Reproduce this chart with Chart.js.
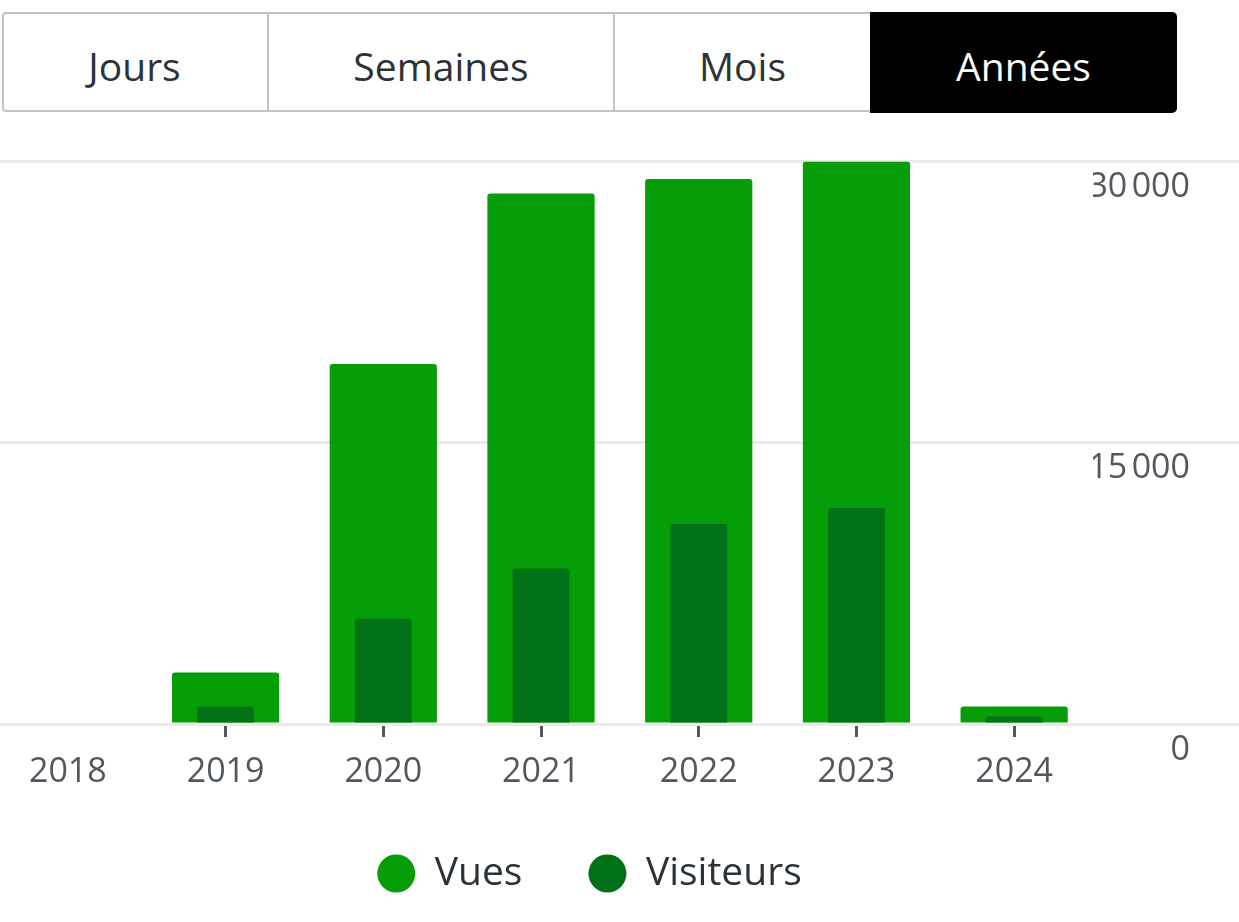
<!DOCTYPE html>
<html lang="fr">
<head>
  <meta charset="UTF-8">
  <title>Statistiques | Années</title>
  <script src="https://cdn.jsdelivr.net/npm/chart.js"></script>
  <style>
    html, body { margin: 0; padding: 0; background: #fff; overflow: hidden; width: 1239px; height: 922px; }
    body { position: relative; font-family: "Open Sans", sans-serif; }
    .tabs { position: absolute; left: 2px; top: 12px; width: 1175px; height: 100px; box-sizing: border-box; border: 2px solid #c3c4c7; border-radius: 4px; }
    .sep { position: absolute; top: 12px; width: 2px; height: 100px; background: #c3c4c7; }
    .active { position: absolute; left: 870px; top: 12px; width: 307px; height: 101px; background: #000; border-radius: 0 5px 5px 0; }
    .tab { position: absolute; top: 16px; height: 100px; line-height: 100px; text-align: center; font-size: 39px; color: #2c3338; }
    #wrap { position: absolute; left: -11px; top: 120px; width: 1250px; height: 783px; }
  </style>
</head>
<body>
  <div class="tabs"></div>
  <div class="sep" style="left:267px"></div>
  <div class="sep" style="left:613px"></div>
  <div class="active"></div>
  <div class="tab" style="left:2px;width:265px">Jours</div>
  <div class="tab" style="left:269px;width:344px">Semaines</div>
  <div class="tab" style="left:615px;width:255px">Mois</div>
  <div class="tab" style="left:870px;width:307px;color:#fff">Années</div>

  <div id="wrap"><canvas id="statsChart"></canvas></div>

  <script>
    // data
    const years = ['2018', '2019', '2020', '2021', '2022', '2023', '2024'];
    const vues = [0, 2750, 19200, 28300, 29070, 30000, 930];
    const visiteurs = [0, 930, 5630, 8300, 10670, 11520, 400];
    const yTicks = [0, 15000, 30000];
    const yTickLabels = ['0', '15\u202f000', '30\u202f000'];

    const tickFont = { family: 'Open Sans', size: 34, lineHeight: 1 };

    new Chart(document.getElementById('statsChart'), {
      type: 'bar',
      data: {
        labels: years,
        datasets: [
          {
            label: 'Vues',
            data: vues,
            backgroundColor: '#069e08',
            barPercentage: 0.68,
            categoryPercentage: 1,
            grouped: false,
            order: 1,
            borderRadius: { topLeft: 3, topRight: 3 },
            borderSkipped: 'bottom'
          },
          {
            label: 'Visiteurs',
            data: visiteurs,
            backgroundColor: '#007117',
            barPercentage: 0.36,
            categoryPercentage: 1,
            grouped: false,
            order: 0,
            borderRadius: { topLeft: 3, topRight: 3 },
            borderSkipped: 'bottom'
          }
        ]
      },
      options: {
        responsive: true,
        maintainAspectRatio: false,
        animation: false,
        layout: { padding: { top: 41.5, right: 49, bottom: 0, left: 0 } },
        scales: {
          x: {
            afterFit: s => { s.height = 64; },
            grid: {
              offset: false,
              drawOnChartArea: false,
              tickLength: 13,
              tickWidth: 3,
              tickColor: c => c.index === 0 ? 'rgba(0,0,0,0)' : '#50575e'
            },
            border: { display: false },
            ticks: { padding: 18, color: '#50575e', font: tickFont, maxRotation: 0, autoSkip: false }
          },
          y: {
            position: 'right',
            min: 0,
            max: 30000,
            afterBuildTicks: s => { s.ticks = yTicks.map(v => ({ value: v })); },
            afterFit: s => { s.width = 97; },
            grid: { color: '#ebebeb', lineWidth: 3, tickLength: 146, tickColor: '#ebebeb', tickWidth: 3 },
            border: { display: false },
            ticks: {
              crossAlign: 'far',
              labelOffset: 26,
              padding: 0,
              color: '#50575e',
              font: tickFont,
              callback: (v, i) => yTickLabels[i]
            }
          }
        },
        plugins: {
          legend: {
            position: 'bottom',
            labels: {
              usePointStyle: true,
              pointStyle: 'circle',
              pointStyleWidth: 38,
              boxHeight: 27,
              padding: 66,
              color: '#2c3338',
              font: { family: 'Open Sans', size: 39 },
              sort: (a, b) => a.datasetIndex - b.datasetIndex
            }
          },
          tooltip: { enabled: false }
        }
      }
    });
  </script>
</body>
</html>
